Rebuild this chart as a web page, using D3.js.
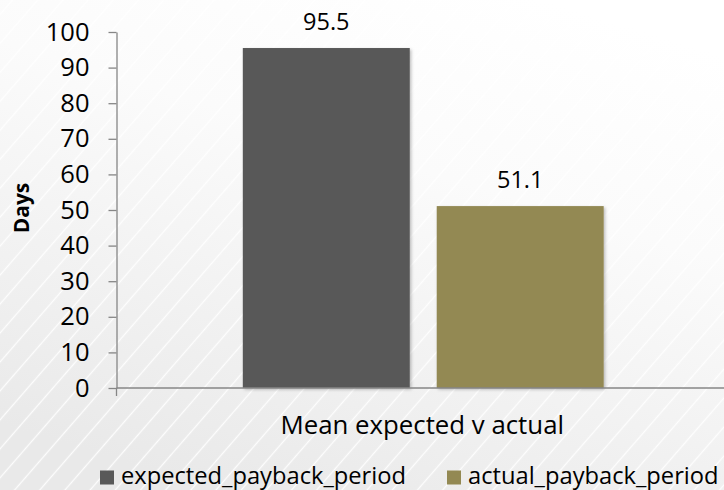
<!DOCTYPE html>
<html>
<head>
<meta charset="utf-8">
<script src="https://cdn.jsdelivr.net/npm/d3@7"></script>
<style>
  html, body { margin: 0; padding: 0; background: #fff; }
  svg { display: block; font-family: "Open Sans", "DejaVu Sans", sans-serif; }
</style>
</head>
<body>
<svg id="chart" width="724" height="490"></svg>
<script>
const categories = ["Mean expected v actual"];
const seriesNames = ["expected_payback_period", "actual_payback_period"];
const seriesValues = [95.5, 51.1];
const seriesColors = ["#595959", "#938953"];
const yTicks = [0, 10, 20, 30, 40, 50, 60, 70, 80, 90, 100];
const yTitle = "Days";

const W = 724, H = 490;
const margin = { left: 116.5, top: 32, bottom: 102, right: -6 };
const svg = d3.select("#chart");
const defs = svg.append("defs");

// Background gradient
const grad = defs.append("linearGradient").attr("id", "bg")
  .attr("x1", "0.75").attr("y1", "0").attr("x2", "0.3").attr("y2", "1");
grad.append("stop").attr("offset", "0").attr("stop-color", "#ffffff");
grad.append("stop").attr("offset", "0.35").attr("stop-color", "#fbfbfb");
grad.append("stop").attr("offset", "1").attr("stop-color", "#e9e9e9");

// Diagonal white stripes
const pat = defs.append("pattern").attr("id", "stripes")
  .attr("patternUnits", "userSpaceOnUse")
  .attr("width", 19).attr("height", 19)
  .attr("patternTransform", "rotate(41)");
pat.append("line").attr("x1", 9.5).attr("y1", 0).attr("x2", 9.5).attr("y2", 19)
  .attr("stroke", "#ffffff").attr("stroke-width", 1.3).attr("stroke-opacity", 0.9);

const shadow = defs.append("filter").attr("id", "shadow")
  .attr("x", "-10%").attr("y", "-10%").attr("width", "130%").attr("height", "130%");
shadow.append("feDropShadow").attr("dx", 1.5).attr("dy", 1.5)
  .attr("stdDeviation", 1.5).attr("flood-color", "#000").attr("flood-opacity", 0.25);

svg.append("rect").attr("width", W).attr("height", H).attr("fill", "url(#bg)");
svg.append("rect").attr("width", W).attr("height", H).attr("fill", "url(#stripes)");

const y = d3.scaleLinear().domain([0, 100]).range([H - margin.bottom, margin.top]);
const x0 = d3.scaleBand().domain(categories)
  .range([margin.left, W - margin.right]).paddingInner(0).paddingOuter(0.35);
const x1 = d3.scaleBand().domain(seriesNames)
  .range([0, x0.bandwidth()]).paddingInner(0.139).paddingOuter(0);

const axisColor = "#868686";

// Bars
const g = svg.append("g");
categories.forEach(cat => {
  const data = seriesNames.map((s, i) => ({ s, v: seriesValues[i], c: seriesColors[i] }));
  g.selectAll("rect.bar").data(data).enter().append("rect")
    .attr("class", "bar")
    .attr("x", d => x0(cat) + x1(d.s))
    .attr("width", x1.bandwidth())
    .attr("y", d => y(d.v))
    .attr("height", d => y(0) - y(d.v))
    .attr("fill", d => d.c)
    .attr("filter", "url(#shadow)");
  g.selectAll("text.val").data(data).enter().append("text")
    .attr("class", "val")
    .attr("x", d => x0(cat) + x1(d.s) + x1.bandwidth() / 2)
    .attr("y", d => y(d.v) - 18)
    .attr("text-anchor", "middle")
    .attr("font-size", 23.5)
    .attr("fill", "#000")
    .text(d => d.v.toFixed(1));
});

// Y axis
const yAxis = svg.append("g")
  .attr("transform", `translate(${margin.left},0)`)
  .call(d3.axisLeft(y).tickValues(yTicks).tickSize(8).tickPadding(19).tickSizeOuter(0));
yAxis.select(".domain").attr("stroke", axisColor).attr("stroke-width", 1.3);
yAxis.selectAll(".tick line").attr("stroke", axisColor).attr("stroke-width", 1.3);
yAxis.selectAll(".tick text").attr("font-size", 25.5).attr("fill", "#000")
  .attr("font-family", "\"Open Sans\", sans-serif");

// X axis
const xAxisG = svg.append("g").attr("transform", `translate(0,${y(0)})`);
xAxisG.append("line")
  .attr("x1", margin.left).attr("x2", W).attr("y1", 0).attr("y2", 0)
  .attr("stroke", axisColor).attr("stroke-width", 1.3);
const xEdges = [x0.range()[0], x0.range()[1]];
xAxisG.selectAll("line.xt").data(xEdges).enter().append("line")
  .attr("class", "xt")
  .attr("x1", d => d).attr("x2", d => d).attr("y1", 0).attr("y2", 8)
  .attr("stroke", axisColor).attr("stroke-width", 1.3);
xAxisG.selectAll("text.cat").data(categories).enter().append("text")
  .attr("class", "cat")
  .attr("x", d => x0(d) + x0.bandwidth() / 2 - 1)
  .attr("y", 46)
  .attr("text-anchor", "middle")
  .attr("font-size", 25.8)
  .attr("fill", "#000")
  .text(d => d);

// Y title
svg.append("text")
  .attr("transform", `translate(29,${(y(0) + y(100)) / 2 - 2}) rotate(-90)`)
  .attr("text-anchor", "middle")
  .attr("font-size", 21)
  .attr("font-weight", "bold")
  .attr("fill", "#000")
  .text(yTitle);

// Legend
const legendX = [100, 447];
const leg = svg.append("g");
seriesNames.forEach((s, i) => {
  leg.append("rect").attr("x", legendX[i]).attr("y", 470.5)
    .attr("width", 14).attr("height", 14).attr("fill", seriesColors[i]);
  leg.append("text").attr("x", legendX[i] + 21).attr("y", 484)
    .attr("font-size", 23.7).attr("fill", "#000").text(s);
});
</script>
</body>
</html>
